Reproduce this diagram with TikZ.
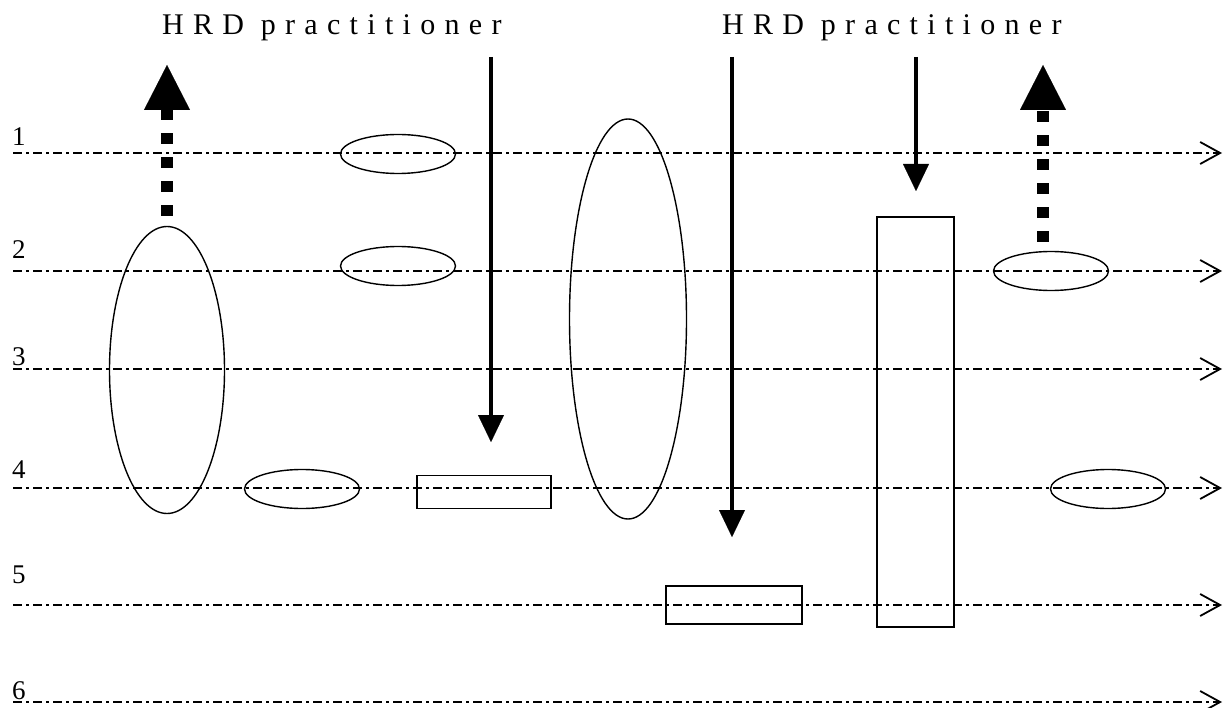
\documentclass[tikz,border=0pt]{standalone}
\usepackage{fontspec}
\setmainfont{Liberation Serif}
\newfontfamily\spacedfont[LetterSpace=31]{Liberation Serif}
\usetikzlibrary{arrows.meta, shapes.geometric}

\begin{document}
\begin{tikzpicture}[
  x=1pt, y=-1pt,
  every node/.style={inner sep=0pt},
  title/.style={font=\spacedfont\fontsize{30}{36}\selectfont, anchor=base west},
  num/.style={font=\fontsize{27}{32}\selectfont, anchor=base west},
  level/.style={
    line width=1.4pt, dash pattern=on 9pt off 4pt on 3pt off 4pt,
    -{Straight Barb[length=20pt,width=22pt,line width=1.8pt]}
  },
  blob/.style={ellipse, draw, line width=1.4pt, minimum width=115pt},
  slab/.style={rectangle, draw, line width=1.4pt},
  push/.style={line width=3.3pt, -{Triangle[length=27pt,width=26pt,line width=0.1pt]}},
  lift/.style={line width=12pt, dash pattern=on 11pt off 13pt,
    -{Triangle[length=45pt,width=46pt,line width=0.1pt]}}
]
 \useasboundingbox (0,0) rectangle (1230,708);

 % Headings
 \node[title] (hrdA) at (162,35) {HRD practitioner};
 \node[title] (hrdB) at (722,35) {HRD practitioner};

 % Levels 1 to 6
 \foreach \n/\y/\b in {1/153/146, 2/271/259, 3/369/365,
             4/488/478, 5/605/583, 6/702/699} {
  \coordinate (s\n) at (13,\y);
  \coordinate (t\n) at (1222,\y);
  \draw[level] (s\n) -- (t\n);
  \node[num] (n\n) at (12,\b) {\n};
 }

 % Ellipses
 \node[blob, minimum height=287pt] (eA) at (167,370) {};
 \node[blob, minimum height=39pt] (eB) at (398,154) {};
 \node[blob, minimum height=39pt] (eC) at (398,266) {};
 \node[blob, minimum height=39pt] (eD) at (302,489) {};
 \node[blob, minimum height=400pt, minimum width=117pt] (eE) at (628,319) {};
 \node[blob, minimum height=39pt] (eF) at (1051,271) {};
 \node[blob, minimum height=39pt] (eG) at (1108,489) {};

 % Boxes
 \node[slab, minimum width=134pt, minimum height=33pt] (bA) at (484,492) {};
 \node[slab, minimum width=136pt, minimum height=38pt] (bB) at (734,605) {};
 \node[slab, minimum width=77pt, minimum height=410pt] (bC) at (915.5,422) {};

 % Arrows down
 \coordinate (dA) at (491,57);
 \coordinate (dA') at (491,442);
 \coordinate (dB) at (732,57);
 \coordinate (dB') at (732,537);
 \coordinate (dC) at (916,57);
 \coordinate (dC') at (916,191);
 \draw[push] (dA) -- (dA');
 \draw[push] (dB) -- (dB');
 \draw[push] (dC) -- (dC');

 % Arrows up
 \coordinate (uA) at (167,65);
 \coordinate (uB) at (1043,65);
 \draw[lift, shorten <=10pt] (eA.north) -- (uA);
 \draw[lift, shorten <=9pt] (eF.north -| uB) -- (uB);
\end{tikzpicture}
\end{document}
